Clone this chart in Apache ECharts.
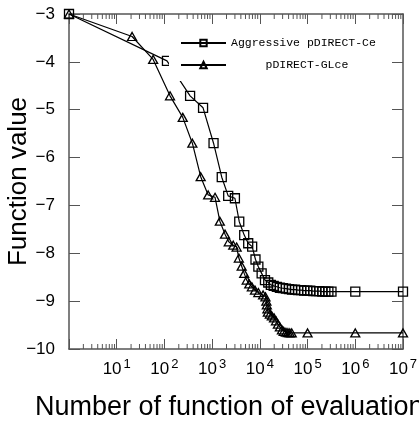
<!DOCTYPE html>
<html><head><meta charset="utf-8">
<script src="https://cdn.jsdelivr.net/npm/echarts@6/dist/echarts.min.js"></script>
<style>html,body{margin:0;padding:0;background:#fff;}#c{width:419px;height:423px;}</style>
</head><body><div id="c"></div>
<script>
// Data (evaluations, function value)
const aggrEvals = [1, 113, 345, 645, 1070, 1590, 2170, 3000, 3700, 4700, 5700, 6900, 8100, 9300, 10900, 12800, 15000,
  17000, 19500, 22700, 26300, 30400, 35200, 40800, 47200, 54700, 63300, 73300, 84900, 98300, 114000, 132000, 152000,
  176000, 204000, 236000, 273000, 317000, 1000000, 10000000];
const aggrValues = [-3, -3.98, -4.71, -4.96, -5.70, -6.41, -6.80, -6.85, -7.34, -7.62, -7.79, -7.86, -8.13, -8.28, -8.42, -8.56, -8.61,
  -8.66, -8.68, -8.70, -8.72, -8.73, -8.74, -8.75, -8.76, -8.76, -8.77, -8.77, -8.78, -8.78, -8.78, -8.79, -8.79,
  -8.79, -8.80, -8.80, -8.80, -8.80, -8.80, -8.80];
const glEvals = [1, 21, 58, 131, 242, 385, 575, 825, 1150, 1450, 1860, 2230, 2770, 3260, 3630, 4160, 4700, 5300, 6000, 6800,
  7900, 9300, 11700, 13100, 13700, 14000, 14400, 14700, 16200, 17800, 19800, 21800, 23900, 26300, 29000, 31600, 35200,
  38800, 42500, 46600, 100000, 1000000, 10000000];
const glValues = [-3, -3.47, -3.95, -4.71, -5.16, -5.70, -6.40, -6.78, -6.83, -7.33, -7.60, -7.76, -7.83, -7.87, -8.10, -8.27,
  -8.42, -8.56, -8.64, -8.70, -8.77, -8.82, -8.87, -8.91, -9.00, -9.08, -9.16, -9.23, -9.27, -9.31, -9.35, -9.41, -9.48,
  -9.54, -9.60, -9.63, -9.65, -9.66, -9.665, -9.665, -9.665, -9.665, -9.665];
const seriesNames = ['Aggressive pDIRECT-Ce', 'pDIRECT-GLce'];
const xRange = [1, 10000000];
const yRange = [-10, -3];
const xTitle = 'Number of function of evaluations';
const yTitle = 'Function value';

const zip = (xs, ys) => xs.map((x, i) => [x, ys[i]]);
const axisColor = '#555';
const font = 'Liberation Sans';

const chart = echarts.init(document.getElementById('c'), null, {renderer: 'canvas'});
const option = {
  animation: false,
  backgroundColor: '#fff',
  grid: {left: 69, right: 16, top: 14, bottom: 74, containLabel: false, outerBoundsMode: 'none'},
  legend: {
    left: 169, top: 28, orient: 'vertical',
    padding: [9, 11, 10, 11],
    itemWidth: 45, itemHeight: 8, itemGap: 10,
    backgroundColor: '#fff',
    textStyle: {fontFamily: 'Liberation Mono', fontSize: 11.5, color: '#000'},
    formatter: n => n === seriesNames[1] ? '     ' + n : n,
    data: seriesNames
  },
  xAxis: [{
    type: 'log', logBase: 10, min: xRange[0], max: xRange[1],
    position: 'bottom',
    name: xTitle, nameLocation: 'middle', nameGap: 45, nameMoveOverlap: false,
    nameTextStyle: {fontFamily: font, fontSize: 27, color: '#000'},
    axisLine: {lineStyle: {color: axisColor, width: 1.5}},
    axisTick: {inside: true, length: 10, lineStyle: {color: axisColor, width: 1}},
    splitLine: {show: false},
    axisLabel: {
      margin: 9, color: '#000',
      formatter: v => { const e = Math.round(Math.log10(v)); return e === 0 ? '' : '{b|10}{s|' + e + '}'; },
      rich: {
        b: {fontFamily: font, fontSize: 17, lineHeight: 22, color: '#000'},
        s: {fontFamily: font, fontSize: 13, lineHeight: 10, verticalAlign: 'top', padding: [0, 0, 0, 2], color: '#000'}
      }
    }
  }, {
    type: 'log', logBase: 10, min: xRange[0], max: xRange[1],
    position: 'top',
    axisLine: {lineStyle: {color: axisColor, width: 1.5}},
    axisTick: {inside: true, length: 10, lineStyle: {color: axisColor, width: 1}},
    axisLabel: {show: false}, splitLine: {show: false}
  }],
  yAxis: [{
    type: 'value', min: yRange[0], max: yRange[1], interval: 1,
    position: 'left',
    name: yTitle, nameLocation: 'middle', nameGap: 37, nameMoveOverlap: false,
    nameTextStyle: {fontFamily: font, fontSize: 26, color: '#000'},
    axisLine: {lineStyle: {color: axisColor, width: 1.5}},
    axisTick: {inside: true, length: 11, lineStyle: {color: axisColor, width: 1}},
    splitLine: {show: false},
    axisLabel: {margin: 14, fontFamily: font, fontSize: 17, color: '#000',
      formatter: v => (v < 0 ? '\u2212' : '') + Math.abs(v)}
  }, {
    type: 'value', min: yRange[0], max: yRange[1], interval: 1,
    position: 'right',
    axisLine: {lineStyle: {color: axisColor, width: 1.5}},
    axisTick: {inside: true, length: 11, lineStyle: {color: axisColor, width: 1}},
    axisLabel: {show: false}, splitLine: {show: false}
  }],
  series: [{
    name: seriesNames[0], type: 'line', xAxisIndex: 0, yAxisIndex: 0,
    data: zip(aggrEvals, aggrValues),
    symbol: 'rect', symbolSize: 9, showAllSymbol: true,
    lineStyle: {color: '#000', width: 1.2},
    itemStyle: {color: 'rgba(255,255,255,0)', borderColor: '#000', borderWidth: 1.3},
    z: 3
  }, {
    name: seriesNames[1], type: 'line', xAxisIndex: 0, yAxisIndex: 0,
    data: zip(glEvals, glValues),
    symbol: 'triangle', symbolSize: [9, 8], showAllSymbol: true,
    lineStyle: {color: '#000', width: 1.2},
    itemStyle: {color: 'rgba(255,255,255,0)', borderColor: '#000', borderWidth: 1.3},
    z: 3
  }]
};
chart.setOption(option);

// Minor log ticks (2..9 per decade) placed through the axis scale
const minor = [];
const yBottom = chart.convertToPixel({yAxisIndex: 0}, yRange[0]);
const yTop = chart.convertToPixel({yAxisIndex: 0}, yRange[1]);
for (let d = 0; d < 7; d++) {
  for (let k = 2; k <= 9; k++) {
    const px = chart.convertToPixel({xAxisIndex: 0}, k * Math.pow(10, d));
    minor.push({type: 'line', shape: {x1: px, y1: yBottom, x2: px, y2: yBottom - 5}, style: {stroke: axisColor, lineWidth: 1}, z: 5});
    minor.push({type: 'line', shape: {x1: px, y1: yTop, x2: px, y2: yTop + 5}, style: {stroke: axisColor, lineWidth: 1}, z: 5});
  }
}
chart.setOption({graphic: minor});
</script></body></html>
